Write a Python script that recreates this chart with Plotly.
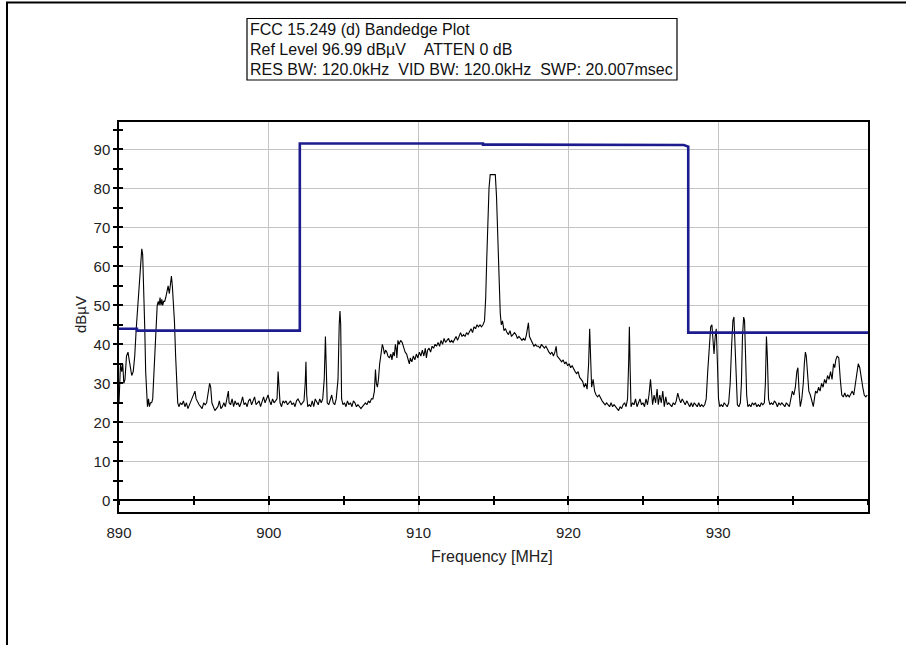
import plotly.graph_objects as go

# ---- measured spectrum (frequency in MHz, level in dBuV) ----
freq_mhz = [
    890.00, 890.05, 890.10, 890.18, 890.25, 890.32, 890.40, 890.50, 890.60, 890.68,
    890.75, 890.85, 890.95, 891.05, 891.15, 891.25, 891.35, 891.45, 891.52, 891.58,
    891.65, 891.72, 891.78, 891.85, 891.90, 891.97, 892.03, 892.10, 892.18, 892.25,
    892.30, 892.38, 892.45, 892.55, 892.62, 892.68, 892.74, 892.80, 892.86, 892.92,
    892.98, 893.05, 893.12, 893.20, 893.28, 893.36, 893.44, 893.50, 893.56, 893.62,
    893.70, 893.78, 893.85, 893.92, 894.00, 894.10, 894.20, 894.30, 894.40, 894.50,
    894.60, 894.70, 894.80, 894.90, 895.00, 895.07, 895.15, 895.25, 895.35, 895.45,
    895.55, 895.65, 895.75, 895.85, 895.95, 896.05, 896.12, 896.20, 896.30, 896.40,
    896.50, 896.60, 896.70, 896.80, 896.90, 897.00, 897.10, 897.20, 897.30, 897.35,
    897.45, 897.55, 897.65, 897.75, 897.85, 897.95, 898.05, 898.15, 898.25, 898.35,
    898.45, 898.55, 898.65, 898.75, 898.85, 898.95, 899.05, 899.15, 899.25, 899.35,
    899.45, 899.55, 899.65, 899.75, 899.85, 899.95, 900.05, 900.15, 900.25, 900.35,
    900.45, 900.55, 900.62, 900.68, 900.75, 900.85, 900.95, 901.05, 901.15, 901.25,
    901.35, 901.45, 901.55, 901.65, 901.75, 901.85, 901.95, 902.05, 902.15, 902.25,
    902.35, 902.43, 902.48, 902.53, 902.60, 902.70, 902.80, 902.90, 903.00, 903.10,
    903.20, 903.30, 903.40, 903.50, 903.60, 903.70, 903.78, 903.84, 903.90, 904.00,
    904.10, 904.20, 904.30, 904.40, 904.50, 904.62, 904.70, 904.75, 904.80, 904.86,
    904.95, 905.05, 905.15, 905.25, 905.35, 905.45, 905.55, 905.65, 905.75, 905.85,
    905.95, 906.05, 906.15, 906.25, 906.35, 906.45, 906.55, 906.65, 906.75, 906.85,
    906.95, 907.05, 907.12, 907.18, 907.25, 907.32, 907.40, 907.50, 907.58, 907.65,
    907.72, 907.80, 907.88, 907.95, 908.05, 908.15, 908.22, 908.30, 908.38, 908.45,
    908.50, 908.55, 908.62, 908.70, 908.80, 908.90, 909.00, 909.10, 909.20, 909.30,
    909.38, 909.45, 909.55, 909.65, 909.75, 909.85, 909.95, 910.05, 910.15, 910.25,
    910.35, 910.45, 910.52, 910.60, 910.70, 910.80, 910.90, 911.00, 911.10, 911.20,
    911.30, 911.40, 911.50, 911.60, 911.70, 911.80, 911.90, 912.00, 912.10, 912.20,
    912.30, 912.40, 912.50, 912.60, 912.70, 912.80, 912.90, 913.00, 913.10, 913.20,
    913.30, 913.40, 913.50, 913.60, 913.70, 913.80, 913.90, 914.00, 914.10, 914.20,
    914.30, 914.40, 914.48, 914.55, 914.62, 914.70, 914.78, 914.90, 915.05, 915.12,
    915.20, 915.28, 915.36, 915.45, 915.52, 915.60, 915.70, 915.80, 915.90, 916.00,
    916.10, 916.20, 916.30, 916.40, 916.50, 916.60, 916.70, 916.80, 916.90, 917.00,
    917.10, 917.20, 917.28, 917.33, 917.40, 917.50, 917.60, 917.70, 917.80, 917.90,
    918.00, 918.10, 918.20, 918.30, 918.40, 918.50, 918.60, 918.70, 918.80, 918.90,
    919.00, 919.10, 919.18, 919.25, 919.35, 919.45, 919.55, 919.65, 919.75, 919.85,
    919.95, 920.05, 920.15, 920.25, 920.35, 920.45, 920.55, 920.65, 920.75, 920.85,
    920.95, 921.05, 921.15, 921.25, 921.35, 921.42, 921.48, 921.55, 921.65, 921.75,
    921.85, 921.95, 922.05, 922.15, 922.25, 922.35, 922.45, 922.55, 922.65, 922.75,
    922.85, 922.95, 923.05, 923.15, 923.25, 923.35, 923.45, 923.55, 923.65, 923.75,
    923.85, 923.95, 924.02, 924.07, 924.12, 924.18, 924.28, 924.38, 924.48, 924.58,
    924.68, 924.78, 924.88, 924.98, 925.08, 925.18, 925.28, 925.38, 925.48, 925.55,
    925.62, 925.72, 925.82, 925.92, 926.00, 926.10, 926.20, 926.30, 926.40, 926.50,
    926.60, 926.70, 926.80, 926.90, 927.00, 927.10, 927.20, 927.30, 927.40, 927.50,
    927.60, 927.70, 927.80, 927.90, 928.00, 928.10, 928.20, 928.30, 928.40, 928.50,
    928.60, 928.70, 928.80, 928.90, 929.00, 929.10, 929.20, 929.30, 929.40, 929.50,
    929.58, 929.65, 929.72, 929.80, 929.87, 929.95, 930.02, 930.10, 930.20, 930.30,
    930.40, 930.50, 930.60, 930.70, 930.80, 930.90, 930.98, 931.05, 931.12, 931.20,
    931.28, 931.38, 931.48, 931.55, 931.62, 931.70, 931.76, 931.82, 931.90, 931.98,
    932.08, 932.18, 932.28, 932.38, 932.48, 932.58, 932.68, 932.78, 932.88, 932.98,
    933.08, 933.15, 933.22, 933.28, 933.36, 933.45, 933.55, 933.65, 933.75, 933.85,
    933.95, 934.05, 934.15, 934.25, 934.35, 934.45, 934.55, 934.65, 934.75, 934.85,
    934.95, 935.05, 935.15, 935.25, 935.32, 935.40, 935.48, 935.58, 935.68, 935.75,
    935.82, 935.88, 935.95, 936.05, 936.15, 936.25, 936.35, 936.42, 936.50, 936.60,
    936.70, 936.80, 936.90, 937.00, 937.10, 937.20, 937.30, 937.40, 937.50, 937.60,
    937.70, 937.78, 937.85, 937.95, 938.05, 938.15, 938.25, 938.35, 938.45, 938.55,
    938.65, 938.75, 938.85, 938.95, 939.05, 939.15, 939.25, 939.35, 939.45, 939.55,
    939.65, 939.75, 939.85, 939.95,
]
level_dbuv = [
    25, 30, 35, 33, 35, 30, 31, 37, 38, 36,
    34, 32, 33, 37, 44, 50, 57, 62, 64.5, 63,
    56, 44, 33, 26, 24, 26, 24, 25, 25, 26,
    30, 40, 46, 50, 51, 50, 52, 50, 51.5, 50,
    51, 51, 52, 54, 55, 53, 56, 57.5, 55, 52,
    46, 37, 29, 25, 24, 25, 24.5, 25.5, 24, 25,
    23.5, 24.5, 25, 26, 27.5, 28, 26, 25, 24.5, 24,
    23.5, 25, 24.5, 25, 27, 30, 29, 25, 24, 23,
    23.5, 24, 25.5, 23.5, 24, 25, 24, 26, 28, 25,
    24.5, 26, 24, 25.5, 24.5, 25, 24, 25, 26.5, 24.5,
    25, 24, 25.5, 26, 24.5, 25.5, 26.5, 24.5, 25, 25.5,
    24, 25.5, 26.5, 25, 26, 27, 25.5, 24.5, 26, 25,
    25.5, 26, 33, 28, 25, 24, 25.5, 25, 25.5, 24.5,
    25, 25.5, 24.5, 25, 24, 25.5, 26, 25, 24.5, 25,
    25.5, 30, 35.5, 27, 24, 24.5, 24, 25.5, 24, 26,
    25, 24.5, 26, 25, 26, 31, 42, 33, 25, 24.5,
    25.5, 27, 25, 24.5, 26, 31, 45, 48.5, 45, 26,
    24.5, 25, 24, 25.5, 24.5, 25, 24, 25.5, 25, 24,
    24.5, 24, 23.5, 24, 24.5, 25, 24.5, 25.5, 25, 26,
    26, 28, 33.5, 30, 29, 31, 35, 38, 40, 39,
    37.5, 38.5, 38, 37, 36.5, 37.5, 36, 38, 37, 40,
    39, 36.5, 41, 40, 41, 40.5, 39, 38, 37.5, 36,
    35, 36.5, 35.5, 37, 36, 37.5, 36.5, 38, 37, 38.5,
    37, 39, 36.5, 38.5, 39, 38, 39.5, 39, 40, 39.5,
    40.5, 39.5, 41, 40, 41.5, 40.5, 41, 41.5, 40.5, 41,
    40.5, 41.5, 42, 41, 42, 43, 42, 42.5, 42, 43,
    42.5, 43.5, 44, 43, 44.5, 44, 45, 44.5, 45, 44.5,
    45, 46, 52, 62, 72, 80, 83.5, 83.5, 83.5, 83.5,
    78, 68, 56, 48, 45, 46, 43.5, 44, 43, 42.5,
    43.5, 42, 42.5, 43, 42.5, 41.5, 42, 41.5, 41, 41.5,
    41, 42.5, 44, 45.5, 42, 41, 40, 39.5, 40, 39.5,
    39.5, 39, 40, 39.5, 39, 39.5, 38.5, 38, 37.5, 38,
    37, 38, 39.5, 37, 36.5, 36, 35.5, 36, 35, 35.5,
    34.5, 35, 34, 34.5, 33.5, 33, 32.5, 33, 31.5, 31,
    30.5, 29, 30, 28.5, 35, 44, 36, 29, 31, 28,
    27, 26.5, 27, 26, 25.5, 25, 24.5, 25, 24.5, 24,
    25, 24, 24.5, 24, 23.5, 23, 24, 23.5, 24.5, 25,
    24, 26, 35, 44.5, 34, 24, 25, 24.5, 26, 24,
    25, 26, 24.5, 25, 24, 26, 24.5, 27, 31, 28,
    24.5, 27, 25, 28.5, 24.5, 27, 25, 28, 24, 26.5,
    24.5, 25, 24.5, 24, 25, 24.5, 25.5, 27.5, 26, 25,
    26, 25, 24.5, 25.5, 24.5, 24, 25, 24, 25, 24.5,
    24, 25, 24, 24.5, 24, 24.5, 26, 33, 40, 44.5,
    45, 40, 37.5, 42, 44, 35, 26, 24, 24.5, 24,
    25, 24.5, 24, 25, 30, 40, 46, 47, 40, 28,
    24.5, 24, 25, 30, 42, 47, 46, 38, 27, 24,
    24.5, 24, 25, 24.5, 25, 24, 24.5, 24, 25, 24.5,
    25, 30, 42, 37, 26, 24.5, 25, 24.5, 25.5, 25,
    24, 25, 24.5, 25, 24.5, 24, 25, 24.5, 24, 26,
    28, 27, 29, 33, 34, 28, 24, 26, 30, 35,
    38, 37, 33, 28, 27, 25, 24, 26, 28, 27.5,
    29, 28, 30, 29, 31, 30, 32, 31, 33, 31,
    35, 34, 36, 37, 36.5, 31, 27, 26.5, 27.5, 26.5,
    27, 26.5, 27.5, 28, 27, 30, 33, 35, 34, 31,
    29, 27, 26.5, 27,
]

# ---- limit line ----
limit_freq_mhz = [890, 891.2, 891.2, 902.07, 902.07, 914.3, 914.3, 927.7, 928.0, 928.0, 940]
limit_dbuv = [44, 44, 43.5, 43.5, 91.5, 91.5, 91.2, 91.1, 90.7, 43, 43]

# ---- axes / text ----
x_range = [890, 940]
y_range = [-3, 97]
x_tick_vals = [890, 900, 910, 920, 930]
y_tick_vals = [0, 10, 20, 30, 40, 50, 60, 70, 80, 90]
header_lines = [
    "FCC 15.249 (d) Bandedge Plot",
    "Ref Level 96.99 dB\u00b5V\u00a0\u00a0\u00a0\u00a0ATTEN 0 dB",
    "RES BW: 120.0kHz\u00a0\u00a0VID BW: 120.0kHz\u00a0\u00a0SWP: 20.007msec",
]
x_title = "Frequency [MHz]"
y_title = "dB\u00b5V"

FONT = "Arial, 'Liberation Sans', sans-serif"

fig = go.Figure()
fig.add_trace(go.Scatter(x=freq_mhz, y=level_dbuv, mode="lines",
                         line=dict(color="black", width=1.1), showlegend=False,
                         hoverinfo="skip"))
fig.add_trace(go.Scatter(x=limit_freq_mhz, y=limit_dbuv, mode="lines",
                         line=dict(color="#1c1c8e", width=2.6), showlegend=False,
                         hoverinfo="skip"))
# helper (empty) traces so the overlay axes are drawn
fig.add_trace(go.Scatter(x=[None], y=[None], xaxis="x2", yaxis="y", showlegend=False, hoverinfo="skip"))
fig.add_trace(go.Scatter(x=[None], y=[None], xaxis="x3", yaxis="y", showlegend=False, hoverinfo="skip"))
fig.add_trace(go.Scatter(x=[None], y=[None], xaxis="x", yaxis="y2", showlegend=False, hoverinfo="skip"))

zero_pos = (0 - y_range[0]) / (y_range[1] - y_range[0])

fig.update_layout(
    width=906, height=645,
    margin=dict(l=119, r=38, t=122, b=133, pad=0),
    paper_bgcolor="white", plot_bgcolor="white",
    font=dict(family=FONT, color="#222222", size=15),
    showlegend=False,
    xaxis=dict(range=x_range, tickmode="array", tickvals=x_tick_vals,
               showgrid=True, gridcolor="#c4c4c4", gridwidth=1,
               showline=True, linecolor="black", linewidth=1.5, mirror=True,
               ticks="", zeroline=False, automargin=False,
               ticklabelstandoff=6,
               tickfont=dict(size=15, family=FONT, color="#222222")),
    xaxis2=dict(range=x_range, overlaying="x", anchor="free", position=zero_pos,
                tick0=890, dtick=5, ticks="outside", ticklen=4, tickwidth=1.5,
                tickcolor="black", showticklabels=False, showgrid=False,
                showline=True, linecolor="black", linewidth=1.5, zeroline=False,
                automargin=False),
    xaxis3=dict(range=x_range, overlaying="x", anchor="free", position=zero_pos,
                tick0=890, dtick=5, ticks="inside", ticklen=4, tickwidth=1.5,
                tickcolor="black", showticklabels=False, showgrid=False,
                showline=False, zeroline=False, automargin=False),
    yaxis=dict(range=y_range, tickmode="array", tickvals=y_tick_vals,
               showgrid=True, gridcolor="#c4c4c4", gridwidth=1,
               showline=True, linecolor="black", linewidth=1.5, mirror=True,
               ticks="outside", ticklen=4, tickwidth=1.5, tickcolor="black",
               minor=dict(tickmode="linear", tick0=0, dtick=5, ticks="outside",
                          ticklen=4, tickwidth=1.5, tickcolor="black", showgrid=False),
               zeroline=False, automargin=False,
               tickfont=dict(size=15, family=FONT, color="#222222")),
    yaxis2=dict(range=y_range, overlaying="y", side="left", anchor="x",
                tick0=0, dtick=5, ticks="inside", ticklen=4, tickwidth=1.5,
                tickcolor="black", showticklabels=False, showgrid=False,
                showline=False, zeroline=False, automargin=False),
)

# plot-area pixel helpers (for decorative layout placement only)
PL, PR, PT, PB = 119, 868, 122, 512
def px_x(px):
    return (px - PL) / (PR - PL)
def px_y(py):
    return (PB - py) / (PB - PT)

# header box
fig.add_shape(type="rect", xref="paper", yref="paper",
              x0=px_x(247), x1=px_x(677), y0=px_y(80), y1=px_y(18.5),
              line=dict(color="black", width=1.2), fillcolor="rgba(0,0,0,0)")
for i, line in enumerate(header_lines):
    fig.add_annotation(text=line, xref="paper", yref="paper",
                       x=px_x(248), y=px_y(30 + 19.5 * i),
                       xanchor="left", yanchor="middle", showarrow=False,
                       font=dict(size=16, family=FONT, color="#111111"))

# axis titles
fig.add_annotation(text=y_title, xref="paper", yref="paper",
                   x=px_x(80), y=px_y(315), textangle=-90,
                   xanchor="center", yanchor="middle", showarrow=False,
                   font=dict(size=15, family=FONT, color="#222222"))
fig.add_annotation(text=x_title, xref="paper", yref="paper",
                   x=px_x(492), y=px_y(556),
                   xanchor="center", yanchor="middle", showarrow=False,
                   font=dict(size=16, family=FONT, color="#222222"))

# outer picture frame (top and left edges)
fig.add_shape(type="line", xref="paper", yref="paper",
              x0=px_x(7), x1=px_x(7), y0=px_y(650), y1=px_y(2),
              line=dict(color="black", width=2))
fig.add_shape(type="line", xref="paper", yref="paper",
              x0=px_x(6), x1=px_x(910), y0=px_y(2.5), y1=px_y(2.5),
              line=dict(color="black", width=2))

fig.write_html("out.html")
